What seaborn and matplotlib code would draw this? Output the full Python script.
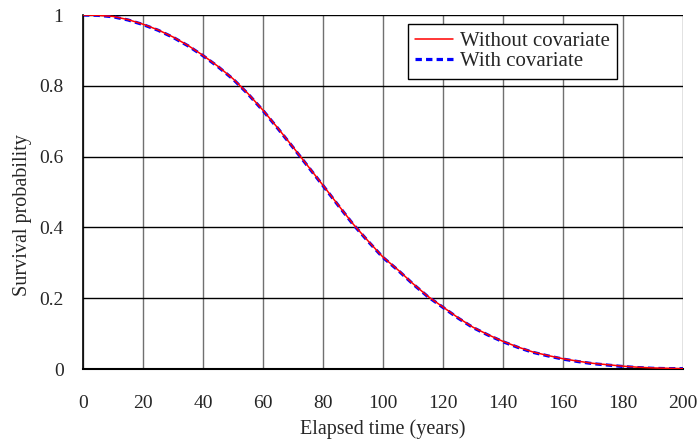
import matplotlib
matplotlib.use("Agg")
import matplotlib.pyplot as plt
import seaborn as sns
import pandas as pd

time_years = [0, 5, 10, 15, 20, 25, 30, 35, 40, 45, 50, 55, 60, 65, 70, 75, 80,
              85, 90, 95, 100, 105, 110, 115, 120, 125, 130, 135, 140, 145, 150,
              155, 160, 165, 170, 175, 180, 185, 190, 195, 200]
without_cov = [1.0, 0.999, 0.996, 0.987, 0.974, 0.958, 0.938, 0.914, 0.886, 0.855,
               0.820, 0.778, 0.731, 0.680, 0.627, 0.573, 0.519, 0.464, 0.410, 0.362,
               0.316, 0.280, 0.241, 0.205, 0.175, 0.145, 0.118, 0.097, 0.078, 0.062,
               0.048, 0.038, 0.029, 0.022, 0.016, 0.012, 0.008, 0.005, 0.003, 0.002, 0.001]
with_cov = [1.0, 0.999, 0.995, 0.986, 0.973, 0.957, 0.937, 0.913, 0.885, 0.854,
            0.819, 0.777, 0.730, 0.679, 0.626, 0.572, 0.518, 0.463, 0.409, 0.361,
            0.315, 0.279, 0.240, 0.204, 0.174, 0.144, 0.117, 0.096, 0.077, 0.061,
            0.047, 0.037, 0.028, 0.021, 0.015, 0.011, 0.007, 0.004, 0.002, 0.001, 0.001]
x_ticks = [0, 20, 40, 60, 80, 100, 120, 140, 160, 180, 200]
y_ticks = [0, 0.2, 0.4, 0.6, 0.8, 1.0]
y_tick_labels = ["0", "0.2", "0.4", "0.6", "0.8", "1"]

sns.set_style("white")
plt.rcParams['font.family'] = ['Liberation Serif', 'DejaVu Serif']

df = pd.DataFrame({"t": time_years, "wo": without_cov, "w": with_cov})

fig = plt.figure(figsize=(7, 4.41), dpi=100)
ax = fig.add_axes([83/700, 72/441, 600/700, 354/441])

for x in x_ticks:
    ax.axvline(x, color="#707070", lw=1.0, zorder=0)
for y in y_ticks:
    ax.axhline(y, color="black", lw=1.0, zorder=0)

sns.lineplot(data=df, x="t", y="w", ax=ax, color="blue", lw=2.3,
             label="With covariate", zorder=2)
ax.lines[-1].set_dashes([2.0, 1.3])
sns.lineplot(data=df, x="t", y="wo", ax=ax, color="red", lw=1.1,
             label="Without covariate", zorder=3)

ax.set_xlim(0, 200)
ax.set_ylim(0, 1)
ax.set_xticks(x_ticks)
ax.set_yticks(y_ticks)
ax.set_yticklabels(y_tick_labels)
ax.tick_params(axis="x", length=0, pad=18.5, labelsize=14)
ax.tick_params(axis="y", length=0, pad=14, labelsize=14)
ax.set_xlabel("Elapsed time (years)", fontsize=14.5)
ax.set_ylabel("Survival probability", fontsize=14.5)
ax.xaxis.set_label_coords(0.5, (369 - 419) / 354)
ax.yaxis.set_label_coords((32 - 83) / 600, (369 - 215) / 354)

for side in ["top", "right"]:
    ax.spines[side].set_visible(False)
ax.spines["left"].set_color("black")
ax.spines["bottom"].set_color("black")
ax.spines["left"].set_linewidth(1.2)
ax.spines["bottom"].set_linewidth(1.5)

handles, labels = ax.get_legend_handles_labels()
leg = ax.legend(handles[::-1], labels[::-1], loc="upper right",
                fontsize=15, frameon=True, fancybox=False, edgecolor="black",
                framealpha=1, borderpad=0.35, labelspacing=0.05, handlelength=1.8,
                handletextpad=0.35, borderaxespad=0)
leg.get_frame().set_linewidth(1.0)
leg.set_bbox_to_anchor((617/700, 1 - 24/441), transform=fig.transFigure)

fig.savefig("out.png", dpi=100)
